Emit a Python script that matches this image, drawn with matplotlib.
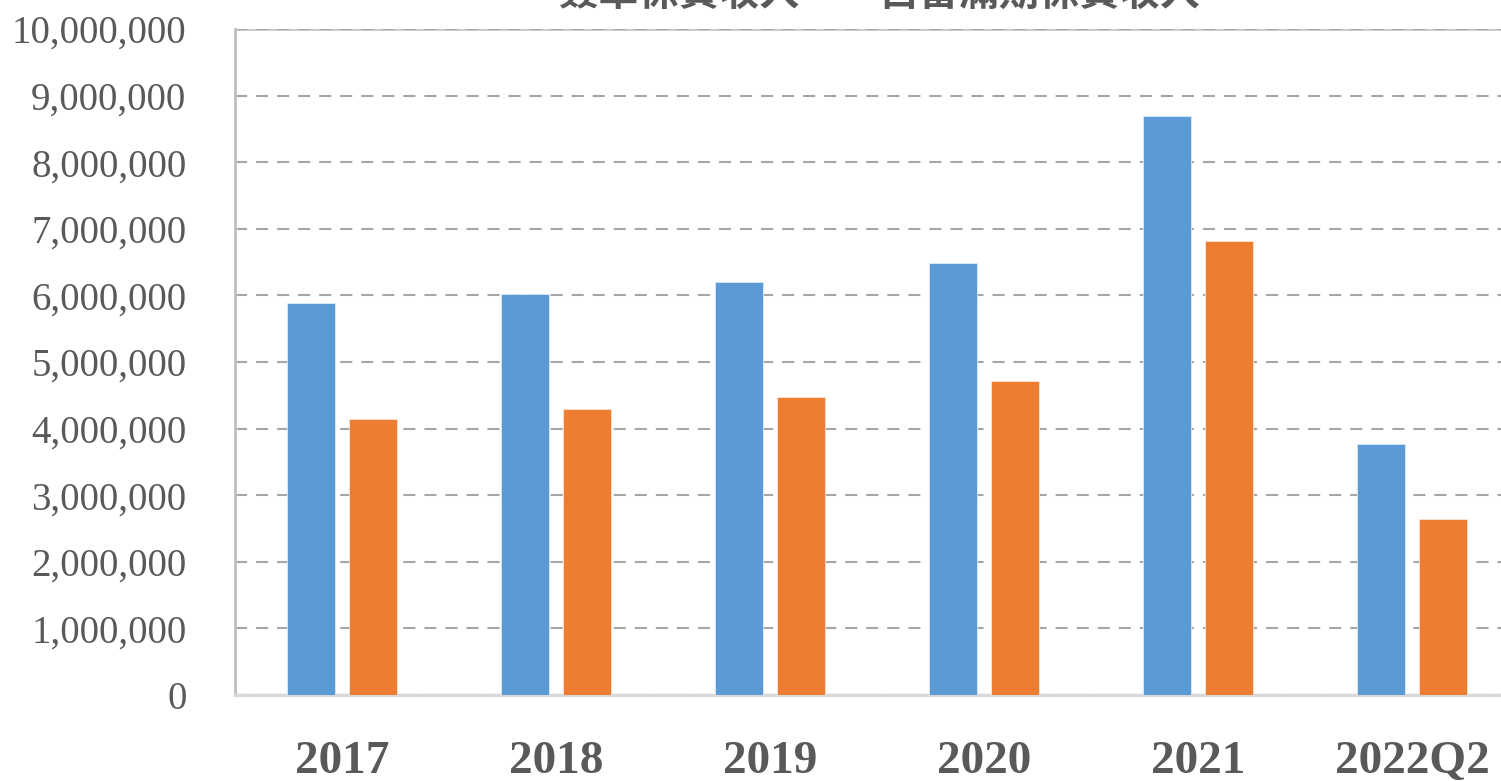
import matplotlib
matplotlib.use("Agg")
import matplotlib.pyplot as plt
from matplotlib.patches import Patch, Rectangle
from matplotlib.legend_handler import HandlerPatch
from matplotlib.ticker import FuncFormatter

categories = ["2017", "2018", "2019", "2020", "2021", "2022Q2"]
signed_premium = [5880000, 6020000, 6200000, 6490000, 8690000, 3770000]
retained_earned = [4140000, 4290000, 4470000, 4710000, 6820000, 2640000]
series_names = ["簽單保費收入", "自留滿期保費收入"]
yticks = list(range(0, 10000001, 1000000))

BLUE = "#5B9BD5"
ORANGE = "#ED7D31"
TXT = "#595959"

fig = plt.figure(figsize=(15.01, 7.81), dpi=100)
ax = fig.add_axes([235 / 1501, 1 - 695 / 781, 1284 / 1501, (695 - 29) / 781])

x = list(range(len(categories)))
w = 0.22
off = 0.145
ax.bar([i - off for i in x], signed_premium, width=w, color=BLUE,
       edgecolor="#DDEBF7", linewidth=0.6, zorder=3)
ax.bar([i + off for i in x], retained_earned, width=w, color=ORANGE,
       edgecolor="#FBE5D6", linewidth=0.6, zorder=3)

ax.set_xlim(-0.5, len(categories) - 0.5)
ax.set_ylim(0, 10000000)
ax.set_yticks(yticks)
ax.yaxis.set_major_formatter(FuncFormatter(lambda v, p: f"{int(v):,}"))
ax.set_xticks(x)
ax.set_xticklabels(categories)

ax.grid(axis="y", color="#A6A6A6", linewidth=1.5, linestyle=(0, (5.8, 4.3)), zorder=1)
ax.set_axisbelow(True)

for s in ["top", "right"]:
    ax.spines[s].set_visible(False)
ax.spines["left"].set_color("#BFBFBF")
ax.spines["left"].set_linewidth(2)
ax.spines["bottom"].set_color("#D9D9D9")
ax.spines["bottom"].set_linewidth(2.5)
ax.axhline(10000000, color="#C8C8C8", linewidth=2, zorder=0.5)

ax.tick_params(axis="both", length=0)
ax.tick_params(axis="y", pad=35)
ax.tick_params(axis="x", pad=33)
for t in ax.get_yticklabels():
    t.set_fontfamily("Liberation Serif")
    t.set_fontsize(28)
    t.set_color(TXT)
for t in ax.get_xticklabels():
    t.set_fontfamily("Liberation Serif")
    t.set_fontsize(34)
    t.set_fontweight("bold")
    t.set_color(TXT)


def square_patch(legend, orig_handle, xdescent, ydescent, width, height, fontsize):
    s = 0.5 * fontsize
    return Rectangle((-xdescent, -ydescent + 0.2 * fontsize), s, s)


handles = [Patch(color=BLUE), Patch(color=ORANGE)]
fig.legend(handles, series_names, loc="center", bbox_to_anchor=(0.573, 1.008),
           ncol=2, frameon=False,
           prop={"family": ["Noto Sans CJK TC", "DejaVu Sans"], "size": 29, "weight": "bold"},
           labelcolor=TXT, handlelength=0.5, handleheight=0.7, handletextpad=0.45,
           columnspacing=1.0,
           handler_map={Patch: HandlerPatch(patch_func=square_patch)})

fig.savefig("out.png", dpi=100)
